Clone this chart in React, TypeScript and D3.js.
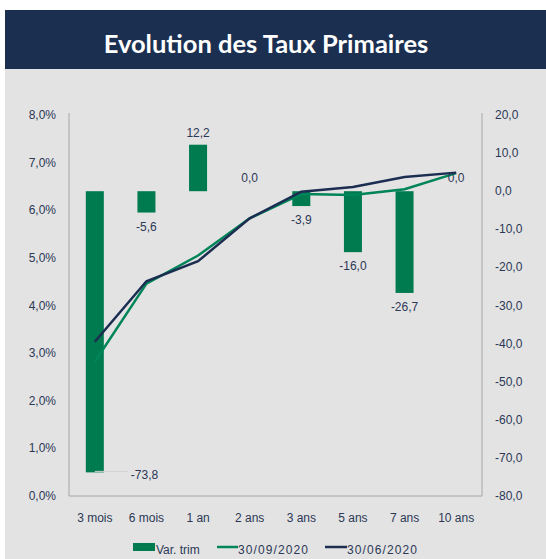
import React from 'react';
import * as d3 from 'd3';

// categories (maturités)
const categories = ['3 mois', '6 mois', '1 an', '2 ans', '3 ans', '5 ans', '7 ans', '10 ans'];
// variation trimestrielle (pb), axe de droite
const varTrim = [-73.8, -5.6, 12.2, 0.0, -3.9, -16.0, -26.7, 0.0];
// taux en %, axe de gauche
const taux0920 = [2.82, 4.46, 5.05, 5.83, 6.34, 6.32, 6.44, 6.78];
const taux0620 = [3.24, 4.51, 4.93, 5.83, 6.39, 6.49, 6.7, 6.79];
const leftTicks = [0, 1, 2, 3, 4, 5, 6, 7, 8];
const rightTicks = [20, 10, 0, -10, -20, -30, -40, -50, -60, -70, -80];

const W = 546;
const H = 559;
const NAVY = '#1b3051';
const GREEN_BAR = '#007a4f';
const GREEN_LINE = '#00845a';
const LINE_NAVY = '#1c2d52';
const TEXT = '#2b3856';
const FONT = '"Liberation Sans", Arial, sans-serif';

const fmt = (v: number, d = 1) => v.toFixed(d).replace('.', ',');

export default function App() {
  const plot = { left: 69, right: 482, top: 115, bottom: 496 };

  const x = d3.scaleBand<string>().domain(categories).range([plot.left, plot.right]).padding(0);
  const yL = d3.scaleLinear().domain([0, 8]).range([plot.bottom, plot.top]);
  const yR = d3.scaleLinear().domain([-80, 20]).range([plot.bottom, plot.top]);
  const barW = 18;
  const cx = (c: string) => (x(c) ?? 0) + x.bandwidth() / 2;

  const line = (vals: number[]) =>
    d3.line<number>()
      .x((_, i) => cx(categories[i]))
      .y(v => yL(v))(vals) ?? '';

  return (
    <svg width={W} height={H} style={{ position: 'absolute', left: 0, top: 0, fontFamily: FONT }}>
      <rect x={0} y={0} width={W} height={H} fill="#fff" />
      <rect x={5} y={69} width={W - 5} height={H - 69} fill="#e3e3e3" />
      <rect x={5} y={10} width={W - 5} height={59} fill={NAVY} />
      <text x={266} y={53} textAnchor="middle" fill="#fff" fontFamily="Lato, 'Noto Sans', sans-serif"
        fontWeight={700} fontSize={25.5}>Evolution des Taux Primaires</text>

      {/* axes */}
      <line x1={plot.left} x2={plot.left} y1={113} y2={plot.bottom} stroke="#a6a6a6" />
      <line x1={plot.right} x2={plot.right} y1={113} y2={plot.bottom} stroke="#a6a6a6" />
      <line x1={plot.left} x2={plot.right} y1={plot.bottom} y2={plot.bottom} stroke="#a6a6a6" />

      {leftTicks.map(t => (
        <text key={'l' + t} x={56} y={yL(t) + 4} textAnchor="end" fontSize={12} fill={TEXT}>{fmt(t)}%</text>
      ))}
      {rightTicks.map(t => (
        <text key={'r' + t} x={495} y={yR(t) + 4} fontSize={12} fill={TEXT}>{fmt(t)}</text>
      ))}
      {categories.map(c => (
        <text key={c} x={cx(c)} y={522} textAnchor="middle" fontSize={12} fill={TEXT}>{c}</text>
      ))}

      {/* bars */}
      {varTrim.map((v, i) => {
        const c = categories[i];
        const y0 = yR(0);
        const y1 = yR(v);
        return (
          <rect key={'b' + c} x={cx(c) - barW / 2} y={Math.min(y0, y1)} width={barW}
            height={Math.abs(y1 - y0)} fill={GREEN_BAR} />
        );
      })}

      {/* lines */}
      <path d={line(taux0920)} fill="none" stroke={GREEN_LINE} strokeWidth={2.5} />
      <path d={line(taux0620)} fill="none" stroke={LINE_NAVY} strokeWidth={2.5} />

      {/* data labels */}
      {varTrim.map((v, i) => {
        const c = categories[i];
        const y1 = yR(v);
        if (y1 + 18 > plot.bottom - 6) {
          return (
            <g key={'lab' + c}>
              <line x1={cx(c)} x2={cx(c) + 33} y1={y1 - 1} y2={y1 - 1} stroke="#d2d2d2" />
              <text x={cx(c) + 36} y={y1 + 7} fontSize={12} fill={TEXT}>{fmt(v)}</text>
            </g>
          );
        }
        const ly = v < 0 ? y1 + 18 : v > 0 ? y1 - 8 : y1 - 9;
        return (
          <text key={'lab' + c} x={cx(c)} y={ly} textAnchor="middle" fontSize={12} fill={TEXT}>{fmt(v)}</text>
        );
      })}

      {/* legend */}
      <rect x={133} y={543} width={22} height={8} fill={GREEN_BAR} />
      <text x={156} y={554} fontSize={12} fill={TEXT}>Var. trim</text>
      <line x1={217} x2={238} y1={547} y2={547} stroke={GREEN_LINE} strokeWidth={2.5} />
      <text x={238} y={554} fontSize={12} letterSpacing={1.1} fill={TEXT}>30/09/2020</text>
      <line x1={325} x2={347} y1={547} y2={547} stroke={LINE_NAVY} strokeWidth={2.5} />
      <text x={347} y={554} fontSize={12} letterSpacing={1.1} fill={TEXT}>30/06/2020</text>
    </svg>
  );
}
